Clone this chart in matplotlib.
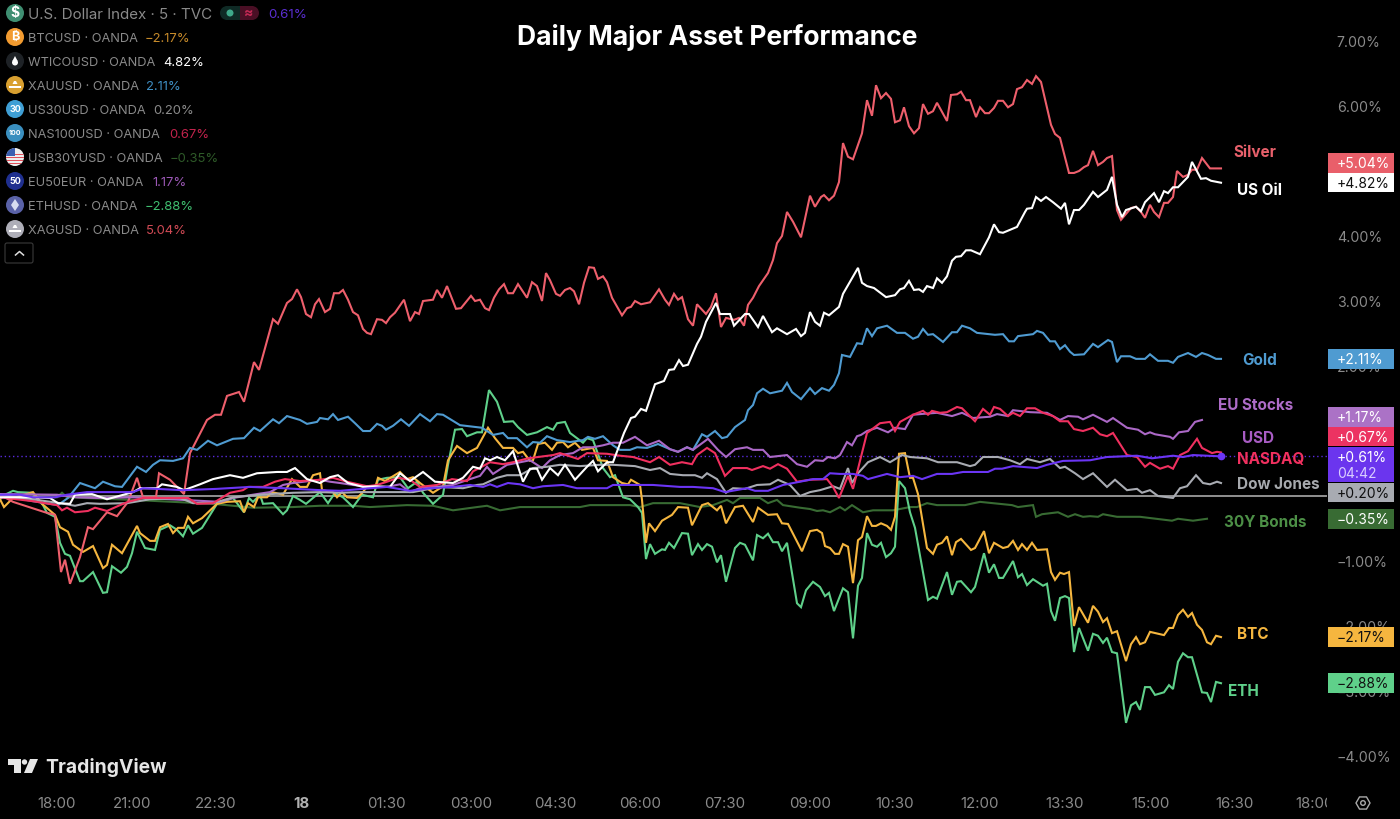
import matplotlib
matplotlib.use("Agg")
import matplotlib.pyplot as plt
from matplotlib.patches import Circle, Rectangle, FancyBboxPatch, Polygon, RegularPolygon, Wedge
from matplotlib.transforms import Bbox

FONT = ['Inter', 'DejaVu Sans']
plt.rcParams['font.family'] = FONT

# x = session time in chart units, y = percent change
silver = [(0,0.02),(1.3,-0.09),(4.5,-0.25),(5.5,-0.29),(6.1,-1.17),(6.5,-0.98),(7,-1.35),(8,-0.94),(8.8,-0.48),(9.3,-0.51),(10.7,-0.25),(11.7,-0.31),(12.8,-0.09),(13.7,0.28),(14.3,-0.02),(15.6,-0.02),(15.9,0.35),(17,0.25),(18.4,0.03),(19,0.66),
(20.2,1.02),(20.7,1.17),(21.5,1.25),(22.1,1.25),(22.7,1.54),(23.9,1.6),(24.4,1.45),(25.4,2.06),(25.9,1.94),(27.3,2.72),(27.8,2.65),(28.7,2.97),(29.2,3.03),(29.7,3.18),(30.1,3.06),(30.6,2.8),(31.1,2.75),(31.5,2.95),(31.9,3.03),(32.5,2.83),(33,2.88),(33.4,3.12),(33.9,3.12),(34.3,3.17),(34.8,3.02),(35.3,2.83),(35.8,2.78),(36.3,2.57),(36.7,2.51),(37.1,2.49),(37.7,2.72),(38.2,2.71),(38.6,2.66),(39,2.75),(39.5,2.82),(40.4,3.02),(41,2.69),(41.5,2.83),(41.9,2.8),(42.3,3.0),(43.3,3.02),(43.7,3.17),(44.2,3.05),(44.7,3.23),(45.6,2.88),(46.1,2.89),(47.1,3.08),(47.5,3.0),(48,3.02),(48.5,2.89),(48.9,2.86),(49.4,3.05),(49.9,3.18),(50.4,3.26),(50.8,3.12),(51.3,3.12),(51.8,3.26),(52.7,3.05),(53.2,3.29),(53.7,3.23),(54.2,3.0),(54.6,3.43),(55,3.32),(55.6,3.11),(56,3.08),(56.5,3.17),(57,3.2),(57.4,3.15),(57.9,2.95),(58.4,3.28),(58.9,3.52),(59.4,3.51),(59.8,3.34),(60.3,3.38),(60.7,3.29),(61.2,3.05),(62.2,2.78),(62.7,2.89),(63.1,2.91),(63.5,3.0),(64.1,2.95),(65,2.98),(65.9,3.18),(66.5,3.02),(66.9,2.94),(67.4,3.11),(67.8,3.02),(68.2,3.06),(68.8,2.72),(69.3,2.62),(69.7,2.95),(70.6,2.8),(71.1,2.91),(71.6,3.12),(72.1,2.6),(72.6,2.74),(73.4,2.71),(73.9,2.74),(74.4,2.62),(74.8,2.94),(75.3,3.05),(75.9,3.23),(76.8,3.43),(77.3,3.63),(77.7,3.89),(78.2,4.0),(78.7,4.37),(79.3,4.22),(80.1,3.98),(81,4.62),(81.5,4.45),(82.1,4.6),(82.4,4.63),(82.9,4.55),(83.4,4.62),(83.9,4.83),(84.3,5.43),(84.8,5.22),(85.3,5.18),(85.8,5.4),(86.2,5.58),(86.7,6.09),(87.2,5.85),(87.6,6.32),(88.1,6.12),(88.6,6.2),(89.1,6.11),(89.5,5.75),(90,5.78),(90.4,5.98),(90.9,5.69),(91.4,5.58),(91.9,5.66),(92.3,6.03),(92.8,5.88),(93.3,5.92),(93.7,6.05),(94.2,5.91),(94.7,5.77),(95.1,6.17),(95.7,6.18),(96.1,6.22),(96.6,6.09),(97,6.09),(97.6,5.83),(98,5.98),(98.5,5.89),(98.9,5.89),(99.4,5.97),(99.8,6.08),(100.3,6.08),(100.8,5.98),(101.3,6.03),(101.7,6.26),(102.2,6.29),(102.7,6.4),(103.2,6.34),(103.6,6.46),(104.1,6.37),(105.1,5.71),(105.5,5.57),(106,5.51),(106.9,4.97),(107.4,4.97),(107.9,5.0),(108.4,5.06),(108.8,5.09),(109.3,5.31),(109.8,5.09),(110.3,5.14),(110.7,5.2),(111.2,5.23),(111.7,4.4),(112.1,4.25),(112.6,4.34),(113.1,4.43),(113.6,4.45),(114.1,4.37),(114.5,4.28),(115,4.48),(115.4,4.37),(115.9,4.29),(116.4,4.51),(116.8,4.51),(117.3,4.6),(117.7,5.0),(118.3,4.91),(118.8,4.94),(119.2,5.02),(119.7,5.02),(120.2,5.2),(121,5.04),(122.1,5.04)]

oil = [(0,-0.02),(3.3,-0.02),(5,-0.03),(5.8,-0.11),(7,-0.12),(7.5,0.02),(9.2,0.03),(10.7,-0.05),(13.3,0.06),(14,0.12),(15.7,0.12),(16.2,0.18),(17.7,0.14),(18.4,0.09),(20,0.18),(21.3,0.26),(23,0.32),(24.3,0.28),(25.7,0.35),(27.7,0.37),(28.7,0.37),(29.5,0.43),(30.7,0.26),(32,0.2),(33,0.29),(33.8,0.32),(34.8,0.2),(36.3,0.14),(37.5,0.15),(39,0.14),(40,0.35),(41,0.23),(42.3,0.37),(43.5,0.22),(45.3,0.2),(46.3,0.28),(47.3,0.45),(48,0.42),(48.5,0.58),(49,0.55),(49.7,0.6),(50.5,0.55),(51.3,0.69),(52.3,0.22),(53,0.42),(53.7,0.42),(54.2,0.25),(55,0.43),(55.8,0.32),(56.5,0.48),(57.5,0.25),(58.7,0.45),(59.3,0.54),(59.8,0.38),(60.7,0.52),(61.3,0.52),(62.4,0.97),(63.1,1.2),(63.5,1.22),(64.1,1.34),(64.6,1.31),(65.5,1.72),(66.4,1.77),(66.9,1.94),(67.4,1.95),(67.9,2.09),(68.3,2.0),(68.8,2.02),(69.7,2.34),(70.1,2.45),(70.6,2.68),(71.6,2.97),(72,2.8),(73,2.8),(73.4,2.62),(74.5,2.8),(74.9,2.8),(75.8,2.6),(76.3,2.77),(77.2,2.52),(77.7,2.58),(78.7,2.49),(79.6,2.57),(80.1,2.46),(80.5,2.51),(81,2.83),(81.5,2.68),(82,2.62),(82.4,2.82),(82.9,2.78),(83.9,2.91),(84.3,3.11),(85.8,3.51),(86.2,3.28),(86.7,3.23),(87.4,3.2),(88.6,3.06),(89.5,3.09),(90,3.18),(90.4,3.2),(90.9,3.31),(91.4,3.17),(91.9,3.18),(92.3,3.14),(92.7,3.23),(93.3,3.2),(93.7,3.35),(94.2,3.28),(94.7,3.38),(95.2,3.62),(95.6,3.68),(96.1,3.69),(96.6,3.78),(97.1,3.78),(98,3.72),(98.9,3.98),(99.4,4.18),(99.9,4.06),(100.3,4.05),(101.7,4.14),(102.5,4.37),(102.7,4.42),(103.2,4.43),(103.6,4.6),(104.1,4.54),(104.6,4.6),(105.3,4.52),(106.1,4.42),(106.5,4.51),(106.9,4.18),(107.4,4.4),(107.9,4.4),(108.4,4.48),(109.3,4.68),(109.8,4.6),(110.7,4.71),(111.2,4.91),(111.7,4.48),(112.2,4.29),(112.6,4.4),(113.6,4.45),(114.1,4.38),(114.5,4.52),(115.4,4.66),(115.9,4.52),(116.4,4.69),(116.8,4.66),(117.3,4.75),(117.8,4.75),(118.8,4.91),(119.2,5.14),(120.1,4.88),(120.6,4.89),(121.1,4.85),(122.1,4.82)]

gold = [(0,0.02),(3.3,-0.08),(5.8,-0.14),(6.8,-0.03),(8,0.2),(9.5,0.12),(10.3,0.22),(11.5,0.15),(12.2,0.14),(13.7,0.45),(14.6,0.37),(15.3,0.48),(16,0.55),(17.3,0.54),(18.3,0.58),(19,0.74),(19.7,0.71),(20.8,0.85),(21.7,0.78),(23.3,0.88),(24.4,0.89),(25.4,1.05),(26,1.0),(27.3,1.18),(27.9,1.12),(28.7,1.23),(30,1.17),(30.7,1.11),(31.7,1.14),(32,1.2),(32.8,1.18),(33.3,1.26),(33.8,1.17),(34.8,1.22),(35.5,1.12),(36.3,1.0),(37,1.0),(37.7,1.11),(38.2,1.08),(38.6,1.02),(39.3,1.08),(40.1,1.18),(40.9,1.08),(42,1.26),(43,1.15),(43.7,1.26),(44.3,1.25),(46,1.09),(48.2,1.05),(49.3,0.94),(50.3,0.97),(50.8,0.89),(51.7,0.89),(52.7,0.75),(53.3,0.83),(54,0.82),(54.7,0.92),(55.7,0.86),(57,0.83),(58.3,0.86),(58.8,0.91),(59.5,0.88),(60.3,0.92),(61.3,0.78),(62,0.71),(63,0.71),(63.7,0.75),(64.7,0.74),(65.8,0.8),(67,0.72),(67.8,0.68),(68.7,0.75),(69.3,0.71),(70.2,0.95),(70.7,0.91),(71.5,1.0),(72.2,0.89),(72.7,0.91),(73.5,1.06),(74.5,1.17),
(74.8,1.32),(75.3,1.4),(75.7,1.58),(76.3,1.65),(77,1.58),(78.2,1.62),(78.7,1.74),(79.2,1.6),(80.1,1.49),(81,1.66),(81.5,1.57),(82.2,1.66),(82.9,1.62),(83.4,1.71),(83.9,1.89),(84.2,2.17),(85,2.14),(85.7,2.35),(86.2,2.34),(86.7,2.58),(87.2,2.46),(87.7,2.58),(88.7,2.62),(89.7,2.51),(90.5,2.51),(91.3,2.42),(91.8,2.45),(92.3,2.57),(92.8,2.48),(93.3,2.49),(94.3,2.37),(95.2,2.52),(95.7,2.52),(96.2,2.62),(97,2.58),(97.7,2.51),(99.5,2.48),(100.3,2.49),(100.9,2.38),(101.4,2.38),(101.8,2.46),(103.3,2.49),(103.7,2.54),(104.3,2.51),(105,2.38),(105.5,2.38),(106,2.26),(106.5,2.32),(107,2.22),(107.4,2.17),(108.4,2.18),(109.3,2.34),(109.8,2.29),(110.8,2.4),(111.2,2.37),(111.7,2.06),(112.1,2.15),(113,2.15),(113.6,2.11),(114.5,2.11),(115,2.18),(115.8,2.08),(116.8,2.08),(117.3,2.05),(117.8,2.14),(118.8,2.2),(119.6,2.14),(120.2,2.2),(120.8,2.17),(121.6,2.11),(122.1,2.11)]

btc = [(0,-0.05),(0.4,-0.17),(1.3,-0.03),(3.3,0.06),(4.2,-0.12),(5.5,-0.29),(6,-0.48),(6.8,-0.55),(7.3,-0.75),(8.3,-0.86),(9.3,-0.77),(10.3,-1.11),(10.7,-1.06),(11.2,-0.75),(12.2,-0.88),(13.7,-0.46),(14,-0.57),(15,-0.69),(15.5,-0.69),(16,-0.48),(16.8,-0.43),(17.3,-0.57),(17.8,-0.49),(18.4,-0.49),(18.8,-0.32),(19.3,-0.42),(20.2,-0.34),(21.7,-0.12),(22.7,-0.09),(24,-0.08),(24.4,-0.25),(24.8,-0.11),(25.4,-0.17),(25.8,-0.02),(26.7,-0.02),(27.2,0.06),(28.3,0.02),(29.2,0.26),(30,0.14),(30.7,0.14),(31.3,0.32),(32,0.35),(32.2,0.09),(33.3,0.06),(33.7,-0.02),(34.2,0.06),(34.7,-0.02),(35.7,-0.03),(36.3,0.06),(36.7,0.15),(37.5,0.12),(37.8,0.28),(38.5,0.23),(40,0.37),(40.7,0.26),(41.3,0.29),(42,0.2),(43.3,0.05),(44.3,0.15),(44.8,0.55),(45.7,0.77),(46.7,0.66),(47.7,0.74),(48.8,1.05),(49.5,0.89),(50.3,0.74),(51.3,0.74),(51.8,0.66),(52.3,0.68),(53,0.54),(53.3,0.55),(53.8,0.8),(54.5,0.82),(55.2,0.71),(55.7,0.82),(56.3,0.83),(56.8,0.75),(57.5,0.82),(58.2,0.71),(59.3,0.74),(59.8,0.55),(60.7,0.54),(61.3,0.29),(62.2,0.2),(62.8,0.18),(63.1,0.25),(64,0.17),(64.2,-0.06),(64.6,-0.72),(64.9,-0.42),(65.5,-0.54),(66.2,-0.38),(67.2,-0.29),(67.8,-0.17),(68.8,-0.18),(69.2,-0.45),(70.2,-0.14),(70.8,-0.11),(71.7,-0.22),(72.1,-0.15),(72.6,-0.42),(73.5,-0.17),(74.3,-0.15),(75.3,-0.4),(75.8,-0.18),(76.8,-0.29),(77.7,-0.28),(78.2,-0.42),(78.8,-0.43),(80.2,-0.85),(81,-0.54),(81.7,-0.52),(82.2,-0.57),(82.5,-0.77),(83,-0.8),(83.5,-0.89),(83.9,-0.89),(84.3,-0.74),(84.8,-0.78),(85.3,-1.34),(85.8,-0.68),(86.2,-0.63),(86.7,-0.31),(87.2,-0.46),(87.6,-0.46),(88.1,-0.42),(88.7,-0.46),(89.1,-0.52),(89.5,-0.32),(89.9,0.65),(90.5,0.66),(91,0.28),(91.3,0.28),(91.8,0.03),(92.7,-0.8),(93.3,-0.89),(93.7,-0.75),(94.2,-0.72),(94.7,-0.62),(95.2,-0.91),(95.6,-0.71),(96.1,-0.66),(97.1,-0.83),(97.5,-0.8),(98.4,-0.54),(98.9,-0.88),(99.4,-0.72),(100.3,-0.8),(100.8,-0.78),(101.3,-0.69),(101.8,-0.83),(102.2,-0.74),(102.7,-0.83),(103.2,-0.72),(103.7,-0.83),(104.7,-0.82),(105.1,-1.17),(105.5,-1.29),(106,-1.18),(106.4,-1.2),(106.9,-1.17),(107.4,-2.0),(107.9,-1.71),(108.8,-1.95),(109.3,-1.69),(109.8,-1.78),(110.3,-1.94),(110.7,-1.88),(111.2,-2.11),(111.7,-2.08),(112.6,-2.54),(113.1,-2.28),(113.6,-2.17),(114,-2.28),(114.5,-2.25),(115,-2.09),(116.4,-2.14),(116.9,-2.03),(117.3,-2.03),(117.8,-1.83),(118.3,-1.75),(118.8,-1.86),(119.2,-1.8),(119.7,-1.98),(120.2,-2.06),(120.7,-2.25),(121.1,-2.28),(121.6,-2.15),(122.1,-2.17)]

eth = [(0,-0.05),(0.5,0.02),(1.3,0.08),(1.8,0.06),(3.2,0.05),(4.3,-0.14),(4.7,-0.26),(5.5,-0.32),(6,-0.72),(6.5,-0.89),(7,-0.92),(8,-1.31),(8.3,-1.31),(9.3,-1.17),(10.3,-1.49),(10.7,-1.48),(11.2,-1.08),(12.1,-1.18),(12.7,-1.09),(13.2,-0.88),(13.7,-0.55),(14.5,-0.8),(15.5,-0.83),(16,-0.52),(17,-0.45),(17.7,-0.52),(18.3,-0.62),(18.8,-0.45),(19.3,-0.58),(20.2,-0.49),(21.7,-0.12),(23.3,-0.03),(24.4,-0.25),(24.9,-0.03),(25.3,-0.09),(26,0.02),(26.3,-0.12),(27.3,-0.11),(28.3,-0.28),(28.7,-0.22),(29.3,0.0),(30,-0.06),(30.6,-0.12),(32,0.06),(32.8,-0.11),(33.5,0.05),(33.8,0.02),(34.3,-0.02),(35.3,-0.17),(36.2,0.02),(37.3,-0.02),(37.8,0.25),(38.7,0.28),(40,0.29),(40.8,0.12),(41.7,0.22),(42.3,0.05),(43.3,-0.12),(44.3,0.02),(44.8,0.48),(45.5,1.02),(46.2,1.03),(46.7,0.92),(47.7,0.98),(48.2,0.98),(48.9,1.63),(49.7,1.45),(50.4,1.14),(51.3,1.15),(51.8,1.06),(52.7,0.94),(53.7,0.98),(54.7,1.06),(55.3,1.02),(55.7,1.12),(56.5,1.14),(57,0.97),(58.3,0.82),(58.7,0.89),(59.3,0.86),(60.3,0.43),(61,0.29),(61.5,0.32),(62.3,-0.02),(63,-0.05),(63.8,-0.17),(64.2,-0.26),(64.6,-0.97),(65,-0.74),(65.5,-0.89),(66.2,-0.82),(66.5,-0.83),(66.9,-0.72),(67.4,-0.8),(68.2,-0.57),(68.8,-0.58),(69.2,-0.91),(69.8,-0.74),(70.2,-0.83),(70.7,-0.74),(71.2,-0.78),(71.7,-1.02),(72.1,-0.91),(72.6,-1.32),(73.5,-0.8),(74,-0.72),(74.5,-0.75),(75.3,-0.99),(75.7,-0.6),(76.3,-0.65),(76.8,-0.58),(77.3,-0.71),(77.8,-0.71),(78.2,-0.85),(78.7,-0.72),(79.7,-1.65),(80.1,-1.71),(80.6,-1.45),(81.3,-1.32),(82,-1.4),(82.5,-1.54),(82.9,-1.49),(83.4,-1.77),(84.3,-1.42),(84.8,-1.48),(85.3,-2.19),(85.8,-1.38),(86.2,-1.26),(86.7,-0.57),(87.2,-0.75),(87.7,-0.78),(88.1,-0.72),(88.6,-0.94),(89.1,-0.88),(89.5,-0.78),(89.9,0.23),(90.5,0.12),(91,-0.25),(91.5,-0.49),(92.8,-1.6),(93.3,-1.55),(93.7,-1.58),(94.7,-1.17),(95.2,-1.52),(95.7,-1.32),(96.1,-1.31),(97.1,-1.48),(97.5,-1.40),(98.4,-0.88),(98.9,-1.18),(99.4,-1.05),(99.9,-1.26),(100.3,-1.26),(101.3,-1.0),(101.8,-1.25),(102.2,-1.2),(102.7,-1.37),(103.3,-1.28),(104.3,-1.38),(104.7,-1.35),(105.1,-1.77),(105.5,-1.92),(106,-1.57),(106.5,-1.54),(106.9,-1.57),(107.4,-2.4),(107.9,-2.03),(108.8,-2.38),(109.3,-2.12),(109.8,-2.15),(110.3,-2.26),(110.7,-2.18),(111.2,-2.4),(111.7,-2.42),(112.6,-3.49),(113.1,-3.22),(113.6,-3.17),(114,-3.29),(114.5,-2.94),(115,-2.94),(115.5,-3.06),(116.4,-3.02),(116.9,-2.91),(117.3,-2.97),(117.8,-2.55),(118.3,-2.42),(118.8,-2.48),(119.2,-2.48),(120.2,-3.02),(120.7,-3.03),(121.1,-3.17),(121.6,-2.86),(122.1,-2.88)]

nasdaq = [(0,-0.02),(3.3,-0.08),(5.7,-0.14),(6.2,-0.22),(6.7,-0.18),(7.5,-0.25),(8.8,-0.23),(9.5,-0.18),(10.7,-0.23),(12,-0.14),(12.8,-0.09),(14.3,-0.03),(16.7,-0.03),(18.8,-0.03),(19.7,-0.12),(21.3,-0.11),(23,0.05),(24.3,0.09),(24.8,0.14),(26.3,0.14),(27.5,0.22),(28.5,0.26),(30,0.23),(32,0.25),(33.3,0.28),(34.7,0.22),(36.7,0.15),(37.7,0.17),(38.7,0.22),(39.8,0.28),(41,0.25),(42,0.14),(43.7,0.17),(45.2,0.26),(46.7,0.23),(47.3,0.38),(48.3,0.46),(49,0.52),(50.3,0.49),(51.3,0.52),(52.8,0.58),(55.3,0.63),(56,0.66),(57.8,0.57),(58.7,0.66),(60.7,0.65),(62,0.62),(63.3,0.6),(65,0.52),(65.9,0.6),(67,0.48),(68.2,0.52),(69.2,0.49),(69.7,0.63),(70.7,0.74),(71.5,0.66),(72.5,0.31),(73.3,0.43),(74.7,0.43),(75.2,0.4),(76.3,0.46),(77,0.42),(77.8,0.49),(78.7,0.42),(79.7,0.22),(81,0.25),(82.7,0.26),(83.3,0.14),(83.9,-0.03),(84.8,0.31),(85.3,0.11),(86.7,0.97),(88,1.12),(89,1.14),(89.5,1.0),(90,1.14),(91.3,1.25),(92.3,1.31),(92.8,1.25),(93.2,1.31),(94,1.28),(94.7,1.29),(95.7,1.37),(96.2,1.35),(97.5,1.15),(98.3,1.34),(99,1.25),(99.4,1.37),(100,1.34),(100.8,1.23),(101.3,1.28),(102,1.23),(102.7,1.35),(103.5,1.35),(104.3,1.28),(105.3,1.23),(106,1.15),(106.8,1.15),(107.4,1.03),(108.3,1.0),(109.3,1.05),(110,0.95),(110.7,0.92),(111.3,0.97),(112.7,0.63),(113.7,0.6),(114.5,0.45),(115,0.51),(116,0.42),(116.8,0.46),(117.3,0.42),(118,0.63),(118.8,0.69),(119.7,0.88),(120.2,0.74),(121.2,0.66),(121.7,0.68),(122.1,0.67)]

eu_stocks = [(0,0.03),(5.7,0.02),(7.7,-0.02),(9.7,-0.03),(13.3,-0.02),(22,-0.09),(23.3,-0.03),(25.7,0.03),(27,0.06),(28.3,0.17),(29.3,0.2),(32,0.25),(33,0.22),(34,0.2),(35.3,0.17),(37,0.14),(38.7,0.14),(40,0.18),(41,0.06),(42.3,0.14),(43.7,0.14),(45.3,0.17),(46.8,0.25),(48,0.31),(48.7,0.45),(49.3,0.34),(50.7,0.48),(51.7,0.51),(53,0.55),(54.2,0.43),(55,0.55),(56,0.63),(57.3,0.66),(58.3,0.75),(59.3,0.75),(60.3,0.78),(61.3,0.82),(62.3,0.82),(63.5,0.91),(64.7,0.78),(65.9,0.85),(67,0.72),(67.8,0.68),(68.7,0.75),(69.3,0.71),(70.8,0.88),(71.8,0.71),(72.6,0.6),(73.5,0.72),(74.7,0.75),(75.3,0.71),(76.3,0.71),(77,0.6),(78.7,0.63),(79.7,0.49),(80.7,0.45),(81.5,0.55),(82.3,0.54),(82.8,0.6),(83.5,0.58),(84,0.63),(84.7,0.83),(85.2,0.78),(85.7,0.92),(86.1,0.94),(86.7,1.0),(87.7,1.05),(88.8,0.98),(89.5,1.05),(90.5,1.03),(91.3,1.25),(92,1.26),(93.7,1.28),(95.2,1.23),(96.2,1.28),(97.3,1.2),(99,1.22),(99.7,1.26),(100.8,1.23),(101.3,1.32),(103,1.29),(104.7,1.28),(106,1.17),(106.8,1.23),(107.8,1.22),(108.3,1.18),(109.3,1.25),(110.7,1.14),(111.3,1.2),(112.7,1.05),(113.8,1.02),(114.5,0.95),(115,0.98),(115.5,0.95),(117,0.91),(117.3,0.88),(117.9,0.98),(118.8,1.0),(119.5,1.14),(120.2,1.17)]

dow_jones = [(0,0.02),(6,-0.11),(7.5,-0.15),(8.7,-0.11),(10,-0.12),(12.7,-0.11),(15,-0.05),(18,-0.03),(19.3,-0.11),(21.3,-0.11),(23.3,-0.02),(26,0.02),(29.3,0.05),(32,0.06),(34,0.05),(36,0.06),(38.7,0.06),(41.3,0.06),(42.3,0.09),(44,0.14),(46.3,0.12),(47.7,0.17),(48.3,0.18),(49.7,0.28),(50.7,0.32),(52,0.32),(53.3,0.43),(54.7,0.45),(56,0.48),(58,0.46),(60,0.48),(61.3,0.48),(63.5,0.46),(65,0.4),(66,0.43),(67,0.34),(68.3,0.32),(69.5,0.32),(70.2,0.28),(70.7,0.35),(71.7,0.26),(72.6,0.05),(73.3,0.12),(74.5,0.11),(75.7,0.17),(77,0.18),(77.8,0.25),(79,0.17),(80,0.0),(81,0.06),(82,0.09),(83.3,0.15),(84,0.11),(84.8,0.43),(85.2,0.2),(85.8,0.35),(86.8,0.52),(88,0.6),(89,0.52),(90.2,0.63),(91,0.6),(92.7,0.58),(93.8,0.52),(95.7,0.52),(97,0.46),(97.5,0.48),(98.3,0.6),(99.8,0.6),(101,0.55),(102,0.49),(102.7,0.57),(104,0.52),(105,0.57),(106,0.43),(106.5,0.45),(107.5,0.35),(108.3,0.26),(109.3,0.35),(110.7,0.14),(111.5,0.25),(112.7,0.09),(113.7,0.11),(114.2,0.05),(115,0.09),(115.8,0.0),(117.3,-0.03),(118,0.12),(118.7,0.15),(119.6,0.32),(120.3,0.2),(121,0.18),(121.7,0.22),(122.1,0.2)]

usd = [(0,0.02),(2,0.02),(3.3,-0.02),(5.5,-0.02),(6.7,0.02),(8.7,0.06),(13.3,0.06),(14.3,0.12),(18.3,0.09),(21.7,0.11),(25,0.14),(28.3,0.12),(32,0.09),(34,0.08),(36.3,0.11),(38.7,0.14),(41,0.08),(43,0.12),(45.3,0.14),(47,0.17),(48.3,0.14),(49,0.18),(49.7,0.14),(50.8,0.2),(52,0.18),(53.3,0.12),(54.3,0.15),(56.3,0.17),(57.7,0.12),(60.7,0.12),(61.3,0.17),(64,0.17),(65.3,0.17),(68,0.14),(69.3,0.14),(71.3,0.12),(72.5,0.06),(74.7,0.12),(75.5,0.08),(76.8,0.08),(78.3,0.17),(80,0.22),(81.3,0.26),(82.3,0.26),(83,0.35),(84,0.34),(85.3,0.34),(86.3,0.31),(86.8,0.26),(88.7,0.34),(90,0.29),(91.3,0.31),(92.2,0.26),(93.7,0.34),(95.2,0.34),(96.3,0.37),(98.8,0.37),(99.5,0.42),(100.2,0.42),(101.3,0.46),(103.7,0.43),(104.7,0.48),(106.3,0.54),(109,0.55),(110.7,0.6),(113.7,0.62),(115.2,0.58),(117.3,0.62),(118.3,0.6),(119.3,0.63),(120.7,0.62),(122.1,0.61)]

bonds = [(0,0.02),(5.7,-0.02),(6.2,0.05),(6.7,-0.02),(13.3,-0.06),(21.3,-0.12),(23.3,-0.15),(25.3,-0.18),(29.3,-0.17),(32,-0.15),(35.3,-0.15),(37,-0.17),(40.7,-0.14),(43.3,-0.15),(45.3,-0.22),(47.7,-0.17),(48.7,-0.15),(50,-0.22),(52,-0.17),(58,-0.17),(59,-0.14),(63,-0.14),(64,-0.17),(65.3,-0.11),(68,-0.11),(70,-0.17),(71.3,-0.14),(72.7,-0.06),(73.3,-0.11),(74,-0.03),(76,-0.03),(76.8,-0.11),(77.7,-0.06),(78.3,-0.14),(80,-0.18),(81,-0.2),(81.7,-0.23),(82.3,-0.22),(83,-0.25),(84,-0.17),(84.5,-0.22),(85.2,-0.14),(86.3,-0.25),(87.3,-0.22),(89.3,-0.22),(91,-0.17),(91.7,-0.17),(92.7,-0.11),(93.7,-0.14),(95,-0.14),(96.5,-0.14),(98,-0.09),(101.2,-0.14),(101.8,-0.17),(103.3,-0.14),(103.6,-0.32),(104.2,-0.28),(105.8,-0.25),(106.8,-0.32),(107.5,-0.28),(108.3,-0.32),(109,-0.31),(109.8,-0.32),(110.3,-0.28),(111.7,-0.32),(114,-0.32),(117.2,-0.38),(117.8,-0.35),(119.3,-0.38),(120.7,-0.35)]

time_ticks = [5.7, 13.2, 21.6, 30.1, 38.6, 47.1, 55.5, 64.0, 72.5, 81.0, 89.5, 98.0, 106.5, 115.0, 123.4, 131.5]
time_labels = ['18:00','21:00','22:30','18','01:30','03:00','04:30','06:00','07:30','09:00','10:30','12:00','13:30','15:00','16:30','18:00']
pct_ticks = [7, 6, 5, 4, 3, 2, 1, 0, -1, -2, -3, -4]
pct_labels = ['7.00%','6.00%','5.00%','4.00%','3.00%','2.00%','1.00%','0.00%','−1.00%','−2.00%','−3.00%','−4.00%']
usd_last = 0.61

fig = plt.figure(figsize=(14, 8.19), dpi=100, facecolor='black')
ax = fig.add_axes([0, 34/819, 1327/1400, 785/819], facecolor='black')
ax.set_xlim(0, 132.7)
ax.set_ylim(-4.446, 7.631)
for s in ax.spines.values():
    s.set_visible(False)
ax.yaxis.tick_right()
ax.set_yticks(pct_ticks, pct_labels)
ax.set_xticks(time_ticks, time_labels)
ax.tick_params(axis='y', length=0, pad=7, labelcolor='#8a8a8a', labelsize=10.2)
ax.tick_params(axis='x', length=0, pad=9, labelcolor='#8a8a8a', labelsize=10.8)
clip = Bbox([[0, 0], [1327, 819]])
for lab in ax.get_xticklabels():
    lab.set_clip_on(True)
    lab.set_clip_box(clip)
    if lab.get_text() == '18':
        lab.set_fontweight('bold')
        lab.set_color('#b0b0b0')

ax.axhline(0, color='#a9a9a9', lw=1.2, zorder=1)
ax.axhline(usd_last, color='#5a2be0', lw=1.0, ls=(0, (1, 2)), zorder=1)

draw_order = [(bonds, '#386b33'), (eth, '#5fd08a'), (btc, '#f5b63f'), (silver, '#ee5f6c'),
              (gold, '#4f9bd1'), (eu_stocks, '#ab68c6'), (dow_jones, '#a8abb2'),
              (nasdaq, '#f0305f'), (oil, '#ffffff'), (usd, '#6b35f5')]
for i, (series, col) in enumerate(draw_order):
    xs, ys = zip(*series)
    ax.plot(xs, ys, color=col, lw=1.5, zorder=3 + i, solid_joinstyle='miter')
ax.plot([usd[-1][0]], [usd[-1][1]], 'o', color='#6b35f5', ms=4.5, zorder=20)

# overlay in screen pixels for interface furniture
ui = fig.add_axes([0, 0, 1, 1], facecolor='none')
ui.set_xlim(0, 1400)
ui.set_ylim(819, 0)
ui.axis('off')

DY = 1.7  # Inter sits a little high when centred

def put(x, y, s, **kw):
    kw.setdefault('ha', 'left')
    kw.setdefault('va', 'center')
    return ui.text(x, y + DY, s, **kw)

put(717.5, 36, 'Daily Major Asset Performance', color='white', fontsize=19.05, fontweight='bold', ha='center')

series_labels = [('Silver', 1233, 151, '#e8606b'), ('US Oil', 1237, 189, '#ffffff'), ('Gold', 1242, 359, '#4f9bd1'),
                 ('EU Stocks', 1218, 404, '#ae6cc8'), ('USD', 1242, 437, '#a85cc4'), ('NASDAQ', 1237, 458, '#f0305f'),
                 ('Dow Jones', 1237, 483, '#a6a9ad'), ('30Y Bonds', 1224, 521, '#4c8f46'), ('BTC', 1237, 633, '#f5b63f'),
                 ('ETH', 1228, 690, '#5fd08a')]
for name, x, y, col in series_labels:
    put(x, y, name, color=col, fontsize=11.0, fontweight='bold', zorder=6)

boxes = [('+5.04%', 153, 173, '#e95f6a', 'white'), ('+4.82%', 173, 192, '#ffffff', '#111111'),
         ('+2.11%', 349, 369, '#4f9bd1', 'white'), ('+1.17%', 407, 427, '#ab72c6', 'white'),
         ('+0.67%', 427, 446, '#ec3362', 'white'), ('+0.20%', 483, 502, '#a8abb2', '#111111'),
         ('−0.35%', 509, 529, '#386b33', 'white'), ('−2.17%', 627, 647, '#f5b63f', '#111111'),
         ('−2.88%', 673, 693, '#5fd08a', '#111111')]
for txt, y0, y1, bg, fg in boxes:
    ui.add_patch(Rectangle((1328, y0), 66, y1 - y0, facecolor=bg, edgecolor='none', zorder=5))
    put(1337, (y0 + y1) / 2 - 0.5, txt, color=fg, fontsize=10.0, zorder=6)
ui.add_patch(Rectangle((1328, 447), 66, 35, facecolor='#6b35ee', edgecolor='none', zorder=5))
put(1337, 456, '+0.61%', color='white', fontsize=10.0, zorder=6)
put(1337, 472, '04:42', color='#d8ccff', fontsize=10.0, zorder=6)

# legend
GREY = '#8a8a8a'
put(28, 13, 'U.S. Dollar Index · 5 · TVC', color=GREY, fontsize=10.9)
put(268, 13, '0.61%', color='#5a2ed0', fontsize=9.6)
ui.add_patch(Rectangle((226, 6), 14, 14, facecolor='#0f2a25', edgecolor='none'))
ui.add_patch(Wedge((227, 13), 7, 90, 270, facecolor='#0f2a25', edgecolor='none'))
ui.add_patch(Rectangle((240, 6), 13, 14, facecolor='#4a0f25', edgecolor='none'))
ui.add_patch(Wedge((252, 13), 7, 270, 90, facecolor='#4a0f25', edgecolor='none'))
ui.add_patch(Circle((230, 13), 3.5, facecolor='#3fa98a', edgecolor='none'))
ui.text(248.5, 13, '≈', color='#c62a56', fontsize=10, ha='center', va='center', fontweight='bold')

legend_rows = [('BTCUSD · OANDA', '−2.17%', 145, '#c68a2a', 37, '#f29b30', '₿'),
               ('WTICOUSD · OANDA', '4.82%', 163, '#ffffff', 61, '#1e2226', ''),
               ('XAUUSD · OANDA', '2.11%', 146, '#3f8fc4', 85, '#d9a030', ''),
               ('US30USD · OANDA', '0.20%', 153, '#8a8a8a', 109, '#3f9fd5', '30'),
               ('NAS100USD · OANDA', '0.67%', 169, '#c2234c', 133, '#3a8fbf', '100'),
               ('USB30YUSD · OANDA', '−0.35%', 170, '#2e5a28', 157, '#eeeeee', ''),
               ('EU50EUR · OANDA', '1.17%', 152, '#9b58b5', 181, '#1f2f8f', '50'),
               ('ETHUSD · OANDA', '−2.88%', 145, '#3fbf70', 205, '#5a62a8', ''),
               ('XAGUSD · OANDA', '5.04%', 146, '#d04a55', 229, '#aeaeb8', '')]
for name, val, vx, vcol, y, ic, glyph in legend_rows:
    ui.add_patch(Circle((15, y), 9, facecolor=ic, edgecolor='none'))
    put(28, y, name, color=GREY, fontsize=9.2)
    put(vx, y, val, color=vcol, fontsize=9.4)
    if glyph:
        ui.text(15, y, glyph, color='white', fontsize=9 if glyph == '₿' else (5 if len(glyph) == 3 else 6.5),
                fontweight='bold', ha='center', va='center')
ui.add_patch(Circle((15, 13), 9, facecolor='#3f8f72', edgecolor='none'))
ui.text(15, 13, '$', color='white', fontsize=10, fontweight='bold', ha='center', va='center')
# drop
ui.add_patch(Circle((15, 62.5), 3, facecolor='white', edgecolor='none'))
ui.add_patch(Polygon([(12.4, 61), (17.6, 61), (15, 56)], facecolor='white', edgecolor='none'))
# gold and silver bars
for y, c in ((85, '#ffffff'), (229, '#ffffff')):
    ui.add_patch(Polygon([(12.5, y - 1), (17.5, y - 1), (16, y - 4), (14, y - 4)], facecolor=c, edgecolor='none'))
    ui.add_patch(Rectangle((9, y + 1), 12, 2, facecolor=c, edgecolor='none'))
# flag
fc = Circle((15, 157), 9, transform=ui.transData)
for k in range(4):
    ui.add_patch(Rectangle((6, 153.5 + 3 * k), 18, 1.5, facecolor='#e0505a', edgecolor='none', clip_path=fc))
ui.add_patch(Rectangle((6, 148), 9, 8, facecolor='#3a5fb0', edgecolor='none', clip_path=fc))
# ether diamond
ui.add_patch(Polygon([(15, 199), (19, 205), (15, 211), (11, 205)], facecolor='#d8dcf0', edgecolor='none'))
# collapse button
ui.add_patch(FancyBboxPatch((5, 243), 28, 20, boxstyle='round,pad=0,rounding_size=2', facecolor='black', edgecolor='#3a3a3a', lw=0.8))
ui.plot([15.5, 19.5, 23.5], [255, 251.5, 255], color='#dddddd', lw=1.1)

# TradingView mark
LOGO = '#e6e6e6'
ui.add_patch(Polygon([(8, 759), (21, 759), (21, 773), (14, 773), (14, 765), (8, 765)], facecolor=LOGO, edgecolor='none'))
ui.add_patch(Circle((24.5, 762), 2.7, facecolor=LOGO, edgecolor='none'))
ui.add_patch(Polygon([(30, 759), (38, 759), (32, 773), (24, 773)], facecolor=LOGO, edgecolor='none'))
put(45, 765.5, 'TradingView', color=LOGO, fontsize=13.9, fontweight='bold')

# settings glyph
ui.add_patch(RegularPolygon((1363, 803), 6, radius=7, orientation=0.5236, facecolor='none', edgecolor='#aaaaaa', lw=1.0))
ui.add_patch(Circle((1363, 803), 2.3, facecolor='none', edgecolor='#aaaaaa', lw=1.0))

fig.savefig('out.png', dpi=100, facecolor='black')
